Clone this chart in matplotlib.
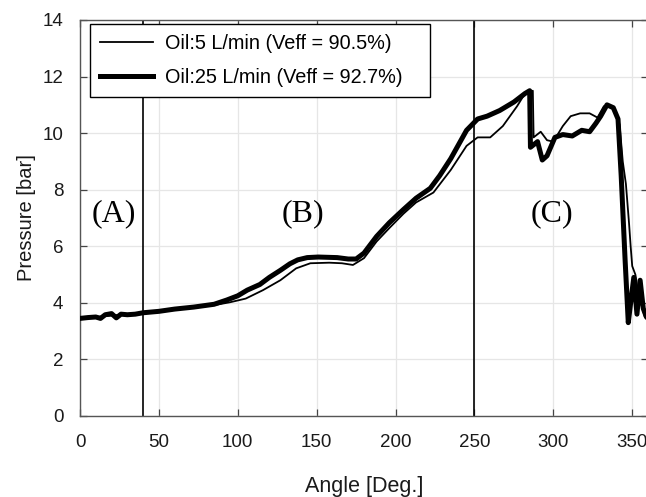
import matplotlib
matplotlib.use("Agg")
import matplotlib.pyplot as plt

# ---- data ----
angle_5 = [0, 10, 20, 30, 40, 50, 60, 72, 85, 95, 105, 116, 127, 137, 146, 158, 166, 173, 180,
           188, 196, 205, 213, 224, 235, 245, 252, 260, 268, 277, 282, 287, 287.5, 292, 296,
           300, 306, 311, 317, 323, 328, 332, 335, 339, 342, 344, 346, 348, 349, 350, 352,
           354, 356, 358, 360]
press_5 = [3.5, 3.5, 3.55, 3.6, 3.63, 3.7, 3.77, 3.83, 3.92, 4.02, 4.15, 4.45, 4.8, 5.22, 5.4,
           5.42, 5.4, 5.34, 5.58, 6.17, 6.64, 7.15, 7.55, 7.9, 8.7, 9.55, 9.85, 9.85, 10.25,
           10.95, 11.4, 11.5, 9.85, 10.05, 9.75, 9.7, 10.25, 10.6, 10.7, 10.7, 10.55, 10.95,
           11.0, 10.8, 10.3, 9.0, 8.2, 6.8, 6.0, 5.3, 5.0, 4.3, 3.9, 3.5, 3.45]

angle_25 = [0, 5, 10, 13, 16, 20, 23, 26, 30, 35, 40, 50, 60, 72, 85, 93, 100, 106, 114, 120,
            127, 133, 138, 144, 151, 163, 170, 175, 180, 188, 196, 205, 213, 222, 228, 235,
            245, 252, 258, 266, 275, 282, 285, 285.5, 290, 293, 296, 301, 306, 312, 318, 323,
            327, 330, 334, 338, 341, 343, 345.5, 347.5, 349, 351, 353, 355, 357, 359, 360]
press_25 = [3.45, 3.48, 3.5, 3.45, 3.58, 3.62, 3.47, 3.6, 3.58, 3.6, 3.65, 3.7, 3.78, 3.85, 3.95,
            4.1, 4.25, 4.45, 4.65, 4.9, 5.15, 5.38, 5.52, 5.6, 5.62, 5.6, 5.55, 5.55, 5.76, 6.35,
            6.83, 7.3, 7.7, 8.05, 8.5, 9.1, 10.1, 10.5, 10.6, 10.8, 11.1, 11.4, 11.5, 9.5, 9.7,
            9.05, 9.2, 9.85, 9.95, 9.9, 10.1, 10.05, 10.35, 10.6, 11.0, 10.9, 10.5, 8.5, 5.5,
            3.3, 4.0, 4.9, 3.6, 4.8, 3.8, 3.5, 3.45]

label_5 = "Oil:5 L/min (Veff = 90.5%)"
label_25 = "Oil:25 L/min (Veff = 92.7%)"
boundaries = [40, 250]
regions = ["(A)", "(B)", "(C)"]
region_x = [21.5, 141, 299]
region_y = 7.15
xticks = [0, 50, 100, 150, 200, 250, 300, 350]
yticks = [0, 2, 4, 6, 8, 10, 12, 14]

plt.rcParams['font.family'] = ['Liberation Sans', 'DejaVu Sans']

fig = plt.figure(figsize=(6.46, 4.97), dpi=100)
ax = fig.add_axes([80/646, (497-416)/497, 568/646, 396/497])

ax.plot(angle_5, press_5, color='black', lw=1.3, label=label_5, zorder=3)
ax.plot(angle_25, press_25, color='black', lw=3.6, label=label_25, zorder=3)

for b in boundaries:
    ax.axvline(b, color='black', lw=1.2, zorder=2)

for r, xr in zip(regions, region_x):
    ax.text(xr, region_y, r, ha='center', va='center', fontsize=23,
            family=['Liberation Serif', 'DejaVu Serif'], color='black')

ax.set_xlim(0, 360)
ax.set_ylim(0, 14)
ax.set_xticks(xticks)
ax.set_yticks(yticks)
ax.grid(True, color='#e6e6e6', lw=0.9, zorder=0)
ax.set_axisbelow(True)
ax.tick_params(direction='in', length=5, width=0.9, top=True, right=True,
               labelsize=13.5, colors='#444444', labelcolor='#1a1a1a')
ax.tick_params(axis='x', pad=13)
ax.tick_params(axis='y', pad=12)
for s in ax.spines.values():
    s.set_color('#555555')
    s.set_linewidth(1.0)

ax.set_xlabel("Angle [Deg.]", fontsize=15.5, labelpad=18, color='#1a1a1a')
ax.set_ylabel("Pressure [bar]", fontsize=14.5, labelpad=5, color='#1a1a1a')

ax_w = 568
ax_h = 396
leg = ax.legend(loc='upper left', bbox_to_anchor=(10/ax_w, 0, 340/ax_w, 1 - 4/ax_h),
                mode='expand', borderaxespad=0,
                fontsize=14.3, handlelength=2.65, handletextpad=0.65, frameon=True,
                fancybox=False, edgecolor='black', framealpha=1, borderpad=0.5,
                labelspacing=0.75)
leg.get_frame().set_linewidth(1.0)

fig.savefig("out.png", dpi=100)
